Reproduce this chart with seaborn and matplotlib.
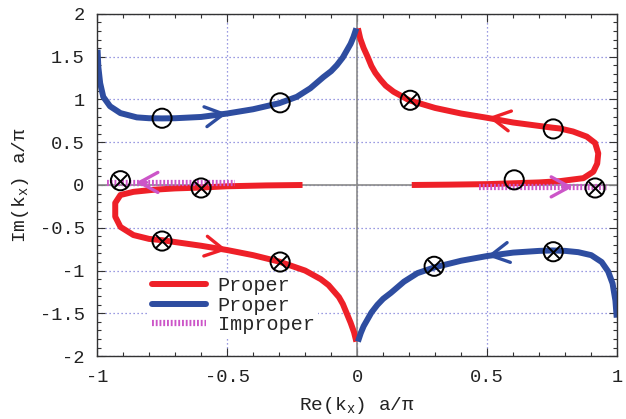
import matplotlib
matplotlib.use("Agg")
import matplotlib.pyplot as plt
import seaborn as sns
from matplotlib.lines import Line2D
from matplotlib.ticker import MultipleLocator

sns.set_theme(style="ticks")
plt.rcParams["font.family"] = ["Liberation Mono", "DejaVu Sans Mono"]
plt.rcParams["axes.unicode_minus"] = False

# ---- data ----
# proper branch (blue), upper left
blue_ul_x = [-0.998, -0.995, -0.988, -0.976, -0.95, -0.91, -0.847, -0.80, -0.75, -0.70,
             -0.60, -0.50, -0.40, -0.30, -0.232, -0.18, -0.13, -0.10, -0.078, -0.055,
             -0.04, -0.025, -0.014, -0.003]
blue_ul_y = [1.58, 1.38, 1.19, 1.03, 0.92, 0.84, 0.79, 0.78, 0.778, 0.78,
             0.795, 0.835, 0.885, 0.955, 1.03, 1.13, 1.26, 1.33, 1.40, 1.49,
             1.57, 1.65, 1.73, 1.83]
# proper branch (blue), lower right
blue_lr_x = [0.003, 0.014, 0.025, 0.04, 0.055, 0.078, 0.10, 0.13, 0.18, 0.232, 0.30,
             0.40, 0.50, 0.60, 0.70, 0.75, 0.80, 0.85, 0.90, 0.94, 0.965, 0.982,
             0.993, 0.998]
blue_lr_y = [-1.83, -1.73, -1.65, -1.57, -1.49, -1.40, -1.33, -1.26, -1.13, -1.03, -0.96,
             -0.885, -0.83, -0.79, -0.77, -0.765, -0.77, -0.785, -0.82, -0.90, -1.01,
             -1.15, -1.35, -1.55]
# proper branch (red), upper right
red_ur_x = [0.21, 0.35, 0.50, 0.60, 0.70, 0.78, 0.87, 0.908, 0.923, 0.927, 0.915,
            0.883, 0.83, 0.78, 0.75, 0.60, 0.50, 0.40, 0.30, 0.20, 0.14, 0.11, 0.09,
            0.07, 0.055, 0.04, 0.025, 0.012, 0.003]
red_ur_y = [0.0, 0.004, 0.01, 0.02, 0.03, 0.045, 0.08, 0.155, 0.25, 0.37, 0.49,
            0.565, 0.625, 0.66, 0.67, 0.73, 0.785, 0.835, 0.90, 0.99, 1.09, 1.16, 1.23,
            1.31, 1.39, 1.50, 1.60, 1.71, 1.83]
# proper branch (red), lower left
red_ll_x = [-0.21, -0.35, -0.50, -0.60, -0.70, -0.78, -0.86, -0.91, -0.93, -0.93,
            -0.91, -0.86, -0.80, -0.75, -0.60, -0.50, -0.40, -0.30, -0.20, -0.14,
            -0.11, -0.09, -0.07, -0.055, -0.04, -0.025, -0.012, -0.003]
red_ll_y = [0.0, -0.005, -0.015, -0.03, -0.04, -0.055, -0.08, -0.117, -0.21, -0.37,
            -0.49, -0.585, -0.63, -0.645, -0.71, -0.76, -0.82, -0.895, -1.0, -1.10,
            -1.17, -1.24, -1.31, -1.39, -1.50, -1.61, -1.72, -1.83]
# improper branch (magenta)
imp_l_x = [-0.96, -0.47]
imp_l_y = [0.025, 0.025]
imp_r_x = [0.47, 0.96]
imp_r_y = [-0.025, -0.025]

# markers
circ_x = [-0.75, -0.296, 0.754, 0.604]
circ_y = [0.78, 0.96, 0.655, 0.06]
otim_x = [0.204, -0.91, -0.60, -0.75, -0.296, 0.296, 0.754, 0.915]
otim_y = [0.99, 0.05, -0.035, -0.655, -0.90, -0.95, -0.78, -0.035]

# direction arrows: tip position and heading
arrow_x = [-0.50, 0.504, -0.50, 0.50, -0.85, 0.83]
arrow_y = [0.835, 0.79, -0.76, -0.83, 0.03, -0.022]
arrow_dx = [0.04, -0.04, 0.04, -0.04, -0.04, 0.04]
arrow_dy = [0.018, 0.02, -0.022, -0.02, 0.0, 0.0]
arrow_col = ["blue", "red", "red", "blue", "mag", "mag"]

xtick_vals = [-1, -0.5, 0, 0.5, 1]
xtick_labels = ["-1", "-0.5", "0", "0.5", "1"]
ytick_vals = [-2, -1.5, -1, -0.5, 0, 0.5, 1, 1.5, 2]
ytick_labels = ["-2", "-1.5", "-1", "-0.5", "0", "0.5", "1", "1.5", "2"]

RED = "#ee2028"
BLUE = "#2e4da0"
MAG = "#cc55c8"
cols = {"red": RED, "blue": BLUE, "mag": MAG}

fig = plt.figure(figsize=(6.26, 4.19), dpi=100)
ax = fig.add_axes([0.155, 0.150, 0.831, 0.817])

ax.grid(True, which="major", color="#7a7ad8", linestyle=(0, (1, 2.2)), linewidth=0.9)
ax.axhline(0, color="#8a8a8a", lw=1.2, zorder=1.5)
ax.axvline(0, color="#8a8a8a", lw=1.2, zorder=1.5)

line_kw = dict(sort=False, estimator=None, lw=4.3, solid_capstyle="butt",
               solid_joinstyle="round", legend=False, ax=ax)
sns.lineplot(x=red_ur_x, y=red_ur_y, color=RED, **line_kw)
sns.lineplot(x=red_ll_x, y=red_ll_y, color=RED, **line_kw)
sns.lineplot(x=blue_ul_x, y=blue_ul_y, color=BLUE, **line_kw)
sns.lineplot(x=blue_lr_x, y=blue_lr_y, color=BLUE, **line_kw)
for xs, ys in [(imp_l_x, imp_l_y), (imp_r_x, imp_r_y)]:
    sns.lineplot(x=xs, y=ys, color=MAG, sort=False, estimator=None, lw=4.5,
                 linestyle=(0, (0.3, 0.3)), dash_capstyle="butt", legend=False, ax=ax)

for x, y, dx, dy, c in zip(arrow_x, arrow_y, arrow_dx, arrow_dy, arrow_col):
    ax.annotate("", xy=(x, y), xytext=(x - dx, y - dy),
                arrowprops=dict(arrowstyle="->,head_length=1.1,head_width=0.6",
                                color=cols[c], lw=2.4, shrinkA=0, shrinkB=0,
                                mutation_scale=12))

sns.scatterplot(x=circ_x, y=circ_y, marker="o", s=190, facecolors="none",
                edgecolor="black", linewidth=1.4, zorder=5, ax=ax)
sns.scatterplot(x=otim_x, y=otim_y, marker="o", s=190, facecolors="none",
                edgecolor="black", linewidth=1.4, zorder=5, ax=ax)
sns.scatterplot(x=otim_x, y=otim_y, marker="x", s=90, color="black",
                linewidth=1.4, zorder=5, ax=ax)

ax.set_xlim(-1, 1)
ax.set_ylim(-2, 2)
ax.set_xticks(xtick_vals, xtick_labels)
ax.set_yticks(ytick_vals, ytick_labels)
ax.xaxis.set_minor_locator(MultipleLocator(0.1))
ax.yaxis.set_minor_locator(MultipleLocator(0.1))
ax.tick_params(which="both", direction="in", top=True, right=True,
               color="#333333", width=0.8, labelsize=13.5, labelcolor="#222222")
ax.tick_params(which="major", length=6, pad=9)
ax.tick_params(which="minor", length=3)
for sp in ax.spines.values():
    sp.set_color("#333333")
    sp.set_linewidth(1.0)

ax.set_xlabel(r"Re(k$_\mathregular{x}$) a/π", fontsize=14, color="#222222", labelpad=7)
ax.set_ylabel(r"Im(k$_\mathregular{x}$) a/π", fontsize=14, color="#222222", labelpad=6)

handles = [Line2D([], [], color=RED, lw=4.3),
           Line2D([], [], color=BLUE, lw=4.3),
           Line2D([], [], color=MAG, lw=4.5, linestyle=(0, (0.3, 0.3)))]
leg = ax.legend(handles, ["Proper", "Proper", "Improper"], loc="lower left",
                bbox_to_anchor=(0.1, 0.055), fontsize=14.5, handlelength=2.7,
                handletextpad=0.55, labelspacing=0.02, borderpad=0.15,
                borderaxespad=0, frameon=True, facecolor="white", edgecolor="none",
                framealpha=1, fancybox=False)
leg.set_zorder(1.2)

fig.savefig("out.png", dpi=100)
